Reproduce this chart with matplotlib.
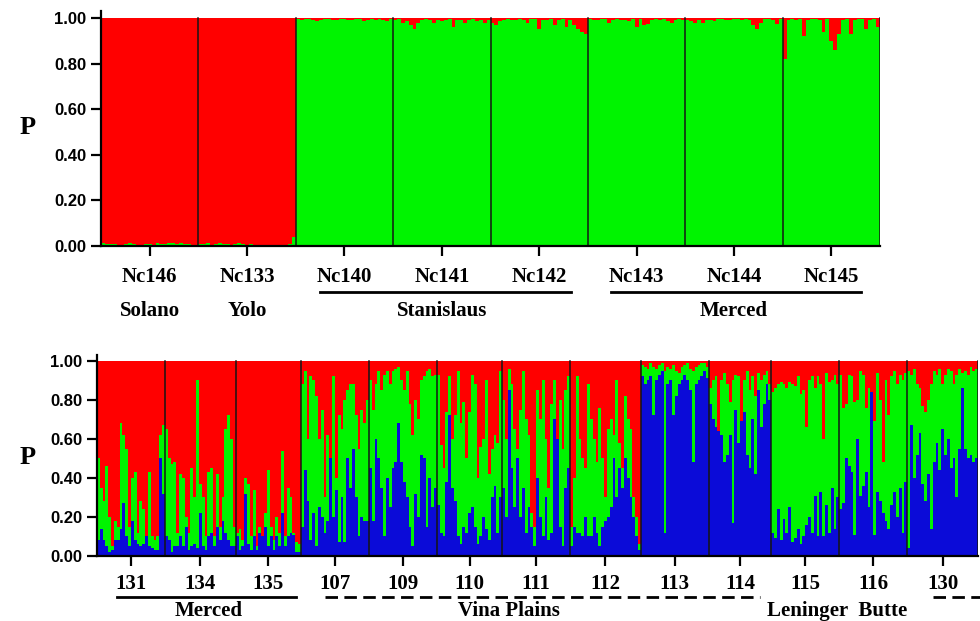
import numpy as np
import matplotlib
matplotlib.use("Agg")
import matplotlib.pyplot as plt

RED = '#ff0000'
GREEN = '#00f400'
BLUE = '#0b0bd8'

# ---- top panel (K=2): green membership per individual
top_pops = ['Nc146', 'Nc133', 'Nc140', 'Nc141', 'Nc142', 'Nc143', 'Nc144', 'Nc145']
top_green = [
    [0.012, 0.01, 0.008, 0.01, 0.006, 0.005, 0.01, 0.012, 0.008, 0.005, 0.006, 0.008, 0.01,
     0.005, 0.012, 0.01, 0.008, 0.012, 0.015, 0.01, 0.012, 0.008, 0.01, 0.006, 0.005],
    [0.01, 0.008, 0.012, 0.006, 0.01, 0.012, 0.008, 0.01, 0.006, 0.01, 0.012, 0.008, 0.005,
     0.01, 0.004, 0.006, 0.005, 0.004, 0.005, 0.006, 0.004, 0.005, 0.004, 0.01, 0.04],
    [0.995, 0.99, 0.994, 0.995, 0.99, 0.985, 0.992, 0.994, 0.995, 0.99, 0.992, 0.995, 0.994,
     0.992, 0.99, 0.994, 0.995, 0.988, 0.992, 0.994, 0.99, 0.995, 0.992, 0.988, 0.994],
    [0.99, 0.995, 0.98, 0.985, 0.97, 0.95, 0.98, 0.99, 0.994, 0.99, 0.98, 0.992, 0.985,
     0.99, 0.995, 0.96, 0.99, 0.992, 0.98, 0.99, 0.995, 0.985, 0.99, 0.98, 0.99],
    [0.98, 0.97, 0.985, 0.99, 0.994, 0.99, 0.992, 0.995, 0.99, 0.98, 0.994, 0.995, 0.95,
     0.99, 0.992, 0.995, 0.97, 0.99, 0.994, 0.96, 0.99, 0.97, 0.95, 0.94, 0.93],
    [0.995, 0.992, 0.99, 0.995, 0.994, 0.98, 0.99, 0.995, 0.992, 0.99, 0.985, 0.994, 0.96,
     0.995, 0.97, 0.975, 0.99, 0.994, 0.99, 0.995, 0.985, 0.98, 0.99, 0.995, 0.992],
    [0.99, 0.985, 0.98, 0.99, 0.98, 0.99, 0.992, 0.985, 0.994, 0.995, 0.99, 0.992, 0.995,
     0.994, 0.99, 0.995, 0.992, 0.97, 0.95, 0.98, 0.994, 0.995, 0.99, 0.975, 0.995],
    [0.82, 0.99, 0.995, 0.99, 0.995, 0.92, 0.99, 0.995, 0.994, 0.99, 0.94, 0.995, 0.90,
     0.86, 0.93, 0.99, 0.995, 0.93, 0.99, 0.994, 0.995, 0.95, 0.99, 0.994, 0.96],
]
# label, position (population units), line start, line end, line style
top_groups = [
    ('Solano', 0.5, None, None, None),
    ('Yolo', 1.5, None, None, None),
    ('Stanislaus', 3.5, 2.25, 4.83, '-'),
    ('Merced', 6.5, 5.24, 7.81, '-'),
]

# ---- bottom panel (K=3): blue membership and blue+green (= 1 - red)
bot_pops = ['131', '134', '135', '107', '109', '110', '111', '112', '113', '114', '115', '116', '130']
bot_blue = [
    [0.08, 0.14, 0.08, 0.05, 0.02, 0.03, 0.08, 0.08, 0.14, 0.27, 0.10, 0.05, 0.18, 0.08, 0.06, 0.05,
     0.06, 0.10, 0.05, 0.04, 0.03, 0.03, 0.50, 0.32],
    [0.10, 0.08, 0.02, 0.05, 0.05, 0.10, 0.05, 0.15, 0.03, 0.05, 0.06, 0.04, 0.22, 0.05, 0.03, 0.10,
     0.12, 0.05, 0.15, 0.08, 0.18, 0.12, 0.08, 0.05, 0.05],
    [0.10, 0.03, 0.05, 0.32, 0.06, 0.03, 0.10, 0.03, 0.12, 0.10, 0.15, 0.05, 0.10, 0.03, 0.10, 0.05,
     0.22, 0.05, 0.10, 0.12, 0.11, 0.02, 0.02],
    [0.15, 0.44, 0.28, 0.08, 0.22, 0.05, 0.25, 0.20, 0.12, 0.18, 0.70, 0.20, 0.34, 0.07, 0.30, 0.07,
     0.50, 0.35, 0.55, 0.30, 0.10, 0.20, 0.18, 0.18],
    [0.45, 0.18, 0.60, 0.50, 0.35, 0.10, 0.40, 0.25, 0.45, 0.48, 0.68, 0.48, 0.38, 0.30, 0.15, 0.05,
     0.32, 0.20, 0.52, 0.50, 0.15, 0.40, 0.25, 0.35],
    [0.26, 0.12, 0.10, 0.38, 0.72, 0.35, 0.28, 0.10, 0.06, 0.15, 0.12, 0.22, 0.25, 0.15, 0.06, 0.10,
     0.20, 0.14, 0.08, 0.30, 0.36, 0.12, 0.30],
    [0.35, 0.20, 0.85, 0.45, 0.25, 0.50, 0.20, 0.35, 0.12, 0.25, 0.15, 0.05, 0.40, 0.20, 0.10, 0.30,
     0.08, 0.12, 0.70, 0.62, 0.15, 0.05, 0.35, 0.45],
    [0.05, 0.15, 0.12, 0.12, 0.10, 0.20, 0.10, 0.10, 0.20, 0.12, 0.05, 0.15, 0.18, 0.20, 0.25, 0.50,
     0.30, 0.45, 0.35, 0.50, 0.40, 0.30, 0.20, 0.10, 0.03],
    [0.92, 0.88, 0.90, 0.92, 0.72, 0.90, 0.93, 0.95, 0.12, 0.88, 0.90, 0.72, 0.82, 0.88, 0.90, 0.93,
     0.90, 0.85, 0.48, 0.88, 0.90, 0.92, 0.95, 0.91],
    [0.78, 0.70, 0.66, 0.64, 0.62, 0.48, 0.52, 0.62, 0.17, 0.75, 0.58, 0.70, 0.74, 0.52, 0.45, 0.70,
     0.42, 0.85, 0.66, 0.78, 0.88, 0.80],
    [0.12, 0.09, 0.24, 0.08, 0.19, 0.12, 0.25, 0.07, 0.09, 0.14, 0.06, 0.10, 0.16, 0.20, 0.12, 0.31,
     0.10, 0.33, 0.10, 0.26, 0.12, 0.35, 0.14, 0.30],
    [0.24, 0.27, 0.50, 0.46, 0.43, 0.11, 0.60, 0.31, 0.36, 0.43, 0.25, 0.86, 0.11, 0.33, 0.28, 0.22,
     0.18, 0.14, 0.26, 0.33, 0.20, 0.35, 0.12, 0.38],
    [0.04, 0.67, 0.40, 0.52, 0.63, 0.37, 0.28, 0.42, 0.14, 0.48, 0.58, 0.44, 0.65, 0.52, 0.60, 0.45,
     0.50, 0.30, 0.55, 0.86, 0.55, 0.50, 0.52, 0.48, 0.50],
]
bot_not_red = [
    [0.50, 0.35, 0.28, 0.46, 0.20, 0.05, 0.18, 0.15, 0.68, 0.62, 0.55, 0.15, 0.40, 0.43, 0.12, 0.28,
     0.24, 0.10, 0.43, 0.10, 0.08, 0.10, 0.62, 0.67],
    [0.65, 0.50, 0.47, 0.48, 0.12, 0.42, 0.40, 0.20, 0.12, 0.45, 0.30, 0.90, 0.37, 0.30, 0.10, 0.43,
     0.45, 0.10, 0.42, 0.15, 0.30, 0.65, 0.72, 0.60, 0.15],
    [0.12, 0.14, 0.08, 0.40, 0.37, 0.10, 0.34, 0.05, 0.15, 0.10, 0.22, 0.44, 0.15, 0.08, 0.20, 0.12,
     0.54, 0.10, 0.35, 0.30, 0.12, 0.07, 0.06],
    [0.88, 0.95, 0.60, 0.92, 0.90, 0.82, 0.60, 0.75, 0.30, 0.62, 0.50, 0.92, 0.40, 0.72, 0.65, 0.80,
     0.85, 0.88, 0.88, 0.72, 0.55, 0.75, 0.68, 0.80],
    [0.90, 0.75, 0.88, 0.95, 0.85, 0.93, 0.95, 0.88, 0.95, 0.96, 0.97, 0.90, 0.85, 0.95, 0.78, 0.62,
     0.80, 0.70, 0.90, 0.92, 0.95, 0.96, 0.92, 0.93],
    [0.93, 0.57, 0.45, 0.74, 0.92, 0.60, 0.72, 0.95, 0.68, 0.79, 0.50, 0.74, 0.93, 0.88, 0.40, 0.56,
     0.60, 0.90, 0.42, 0.55, 0.62, 0.58, 0.95],
    [0.80, 0.60, 0.96, 0.88, 0.65, 0.55, 0.75, 0.95, 0.70, 0.62, 0.22, 0.15, 0.85, 0.70, 0.90, 0.60,
     0.35, 0.78, 0.90, 0.60, 0.80, 0.55, 0.85, 0.92],
    [0.15, 0.40, 0.92, 0.60, 0.50, 0.45, 0.88, 0.70, 0.60, 0.48, 0.76, 0.50, 0.30, 0.65, 0.70, 0.62,
     0.90, 0.58, 0.45, 0.82, 0.70, 0.65, 0.30, 0.20, 0.06],
    [0.98, 0.97, 0.96, 0.99, 0.97, 0.96, 0.98, 0.99, 0.95, 0.97, 0.96, 0.98, 0.95, 0.94, 0.97, 0.98,
     0.99, 0.96, 0.95, 0.97, 0.98, 0.99, 0.99, 0.97],
    [0.86, 0.90, 0.92, 0.64, 0.90, 0.94, 0.88, 0.79, 0.90, 0.93, 0.92, 0.69, 0.90, 0.95, 0.85, 0.92,
     0.82, 0.94, 0.90, 0.93, 0.95, 0.88],
    [0.84, 0.86, 0.88, 0.89, 0.88, 0.86, 0.89, 0.88, 0.87, 0.92, 0.83, 0.85, 0.66, 0.90, 0.92, 0.86,
     0.92, 0.88, 0.60, 0.94, 0.89, 0.90, 0.93, 0.88],
    [0.93, 0.76, 0.78, 0.93, 0.92, 0.79, 0.80, 0.95, 0.93, 0.76, 0.86, 0.84, 0.69, 0.94, 0.80, 0.48,
     0.90, 0.72, 0.92, 0.95, 0.88, 0.93, 0.90, 0.94],
    [0.95, 0.93, 0.96, 0.88, 0.86, 0.77, 0.74, 0.80, 0.88, 0.95, 0.93, 0.96, 0.88, 0.93, 0.96, 0.95,
     0.88, 0.93, 0.96, 0.94, 0.95, 0.93, 0.97, 0.95, 0.96],
]
bot_groups = [
    ('Merced', 1.62, 0.29, 2.92, '-'),
    ('Vina Plains', 6.1, 3.35, 9.82, (0, (4.5, 2.3))),
    ('Leninger  Butte', 10.97, None, None, None),
    (None, None, 12.36, 13.2, (0, (4.5, 2.3))),
]

SERIF = ['Liberation Serif', 'DejaVu Serif']
SANS = ['Liberation Sans', 'DejaVu Sans']


def pop_x(u, starts, counts):
    i = min(int(u), len(counts) - 1)
    return starts[i] + (u - i) * counts[i]


def style_axes(ax, names, starts, counts, pad):
    ax.set_ylim(0, 1.03)
    ax.set_xlim(0, starts[-1] + counts[-1])
    for s in ['top', 'right']:
        ax.spines[s].set_visible(False)
    for s in ['left', 'bottom']:
        ax.spines[s].set_linewidth(1.6)
    ax.set_yticks([0, 0.2, 0.4, 0.6, 0.8, 1.0])
    ax.set_yticklabels(['%.2f' % v for v in [0, 0.2, 0.4, 0.6, 0.8, 1.0]],
                       family=SANS, fontweight='bold', fontsize=12)
    ax.set_xticks(starts + counts / 2)
    ax.set_xticklabels(names, family=SERIF, fontweight='bold', fontsize=15)
    ax.tick_params(axis='both', direction='out', length=7, width=1.6)
    ax.tick_params(axis='x', pad=pad)
    for b in list(starts[1:]) + [starts[-1] + counts[-1]]:
        ax.axvline(b, ymax=1 / 1.03, color='#151515', lw=1.1)


def draw_groups(ax, groups, starts, counts, y_line, y_text):
    tr = ax.get_xaxis_transform()
    for label, pos, l0, l1, ls in groups:
        if l0 is not None:
            ax.plot([pop_x(l0, starts, counts), pop_x(l1, starts, counts)], [y_line, y_line],
                    color='black', lw=2, ls=ls, transform=tr, clip_on=False)
        if label is not None:
            ax.text(pop_x(pos, starts, counts), y_text, label, transform=tr, ha='center',
                    va='center', family=SERIF, fontweight='bold', fontsize=15)


fig = plt.figure(figsize=(9.8, 6.21), dpi=100)
ax1 = fig.add_axes([101 / 980, 1 - 246 / 621, 779 / 980, 234.8 / 621])
ax2 = fig.add_axes([97 / 980, 1 - 556 / 621, 881 / 980, 201 / 621])

# top panel
top_counts = np.array([len(g) for g in top_green])
top_starts = np.concatenate([[0], np.cumsum(top_counts)[:-1]])
for s, g in zip(top_starts, top_green):
    g = np.array(g)
    xs = s + np.arange(len(g))
    ax1.bar(xs, g, width=1, align='edge', color=GREEN, linewidth=0, antialiased=False)
    ax1.bar(xs, 1 - g, bottom=g, width=1, align='edge', color=RED, linewidth=0, antialiased=False)
style_axes(ax1, top_pops, top_starts, top_counts, pad=8)
draw_groups(ax1, top_groups, top_starts, top_counts, -0.196, -0.275)

# bottom panel
bot_counts = np.array([len(b) for b in bot_blue])
bot_starts = np.concatenate([[0], np.cumsum(bot_counts)[:-1]])
for s, b, nr in zip(bot_starts, bot_blue, bot_not_red):
    b = np.array(b)
    nr = np.array(nr)
    xs = s + np.arange(len(b))
    ax2.bar(xs, b, width=1, align='edge', color=BLUE, linewidth=0, antialiased=False)
    ax2.bar(xs, nr - b, bottom=b, width=1, align='edge', color=GREEN, linewidth=0, antialiased=False)
    ax2.bar(xs, 1 - nr, bottom=nr, width=1, align='edge', color=RED, linewidth=0, antialiased=False)
style_axes(ax2, bot_pops, bot_starts, bot_counts, pad=6)
draw_groups(ax2, bot_groups, bot_starts, bot_counts, -0.202, -0.272)

fig.text(20 / 980, 1 - 127 / 621, 'P', family=SERIF, fontweight='bold', fontsize=19,
         ha='left', va='center')
fig.text(20 / 980, 1 - 458 / 621, 'P', family=SERIF, fontweight='bold', fontsize=19,
         ha='left', va='center')

fig.savefig('out.png', dpi=100)
